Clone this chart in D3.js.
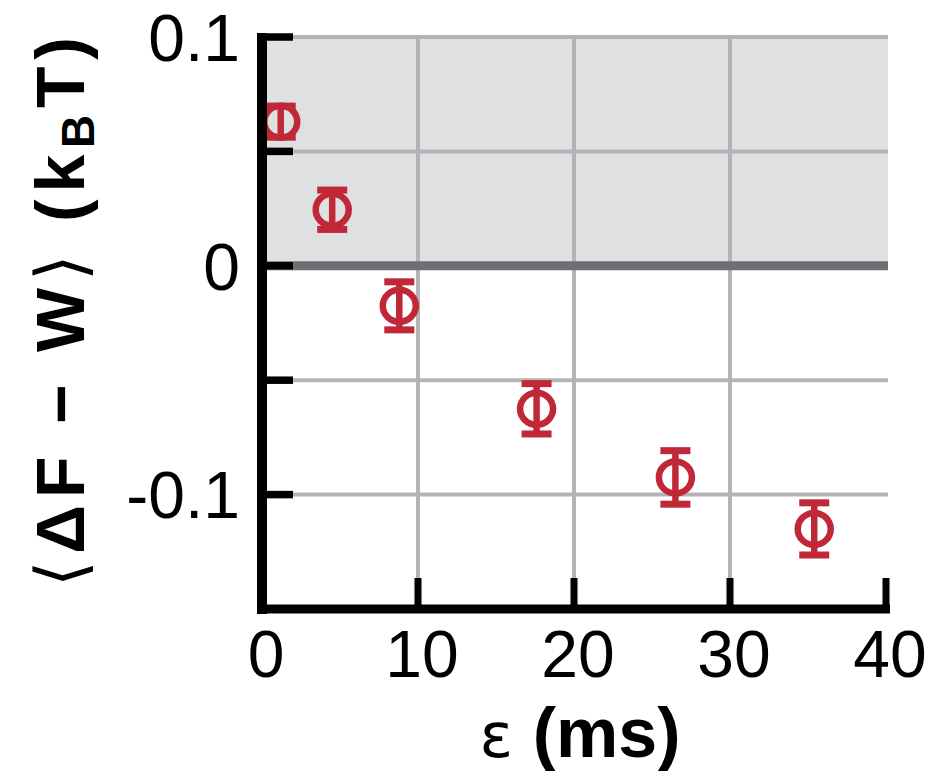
<!DOCTYPE html>
<html>
<head>
<meta charset="utf-8">
<script src="https://cdn.jsdelivr.net/npm/d3@7"></script>
<style>
  html, body { margin: 0; padding: 0; background: #fff; }
  svg { display: block; font-family: "Liberation Sans", Arial, Helvetica, sans-serif; }
</style>
</head>
<body>
<svg id="chart" width="945" height="771" viewBox="0 0 945 771"></svg>
<script>
// data
const epsilon = [1.2, 4.5, 8.8, 17.6, 26.5, 35.4];          // ms
const meanDiff = [0.063, 0.0245, -0.0175, -0.0625, -0.0925, -0.1150]; // kBT
const errDiff = [0.0068, 0.0086, 0.0105, 0.0110, 0.0117, 0.0114];
const xTicks = [0, 10, 20, 30, 40];
const yTicks = [0.1, 0.05, 0, -0.05, -0.1];
const yTickLabels = {"0.1": "0.1", "0": "0", "-0.1": "-0.1"};

const svg = d3.select("#chart");
const red = "#c02838";

const x = d3.scaleLinear().domain([0, 40]).range([262, 886]);
const y = d3.scaleLinear().domain([-0.15, 0.1]).range([609, 37]);

// shaded positive region
svg.append("rect")
    .attr("x", x(0)).attr("y", y(0.1))
    .attr("width", x(40) - x(0) + 2).attr("height", y(0) - y(0.1))
    .attr("fill", "#dfe0e1");

// grid
const grid = svg.append("g");
grid.selectAll(".vg").data([10, 20, 30]).enter().append("line")
    .attr("x1", d => x(d)).attr("x2", d => x(d))
    .attr("y1", y(0.1)).attr("y2", y(-0.15))
    .attr("stroke", "#b3b3b7").attr("stroke-width", 4);
grid.selectAll(".hg").data(yTicks.filter(d => d !== 0)).enter().append("line")
    .attr("x1", x(0)).attr("x2", x(40) + 2)
    .attr("y1", d => y(d)).attr("y2", d => y(d))
    .attr("stroke", "#b3b3b7").attr("stroke-width", 4);
grid.append("line")
    .attr("x1", x(0)).attr("x2", x(40) + 2)
    .attr("y1", y(0)).attr("y2", y(0))
    .attr("stroke", "#707074").attr("stroke-width", 9);

// points with error bars
const pts = svg.append("g").selectAll("g")
    .data(epsilon.map((e, i) => ({x: e, y: meanDiff[i], err: errDiff[i]})))
    .enter().append("g");
pts.append("line")
    .attr("x1", d => x(d.x)).attr("x2", d => x(d.x))
    .attr("y1", d => y(d.y + d.err)).attr("y2", d => y(d.y - d.err))
    .attr("stroke", red).attr("stroke-width", 6.5);
pts.selectAll(".cap").data(d => [d.y + d.err, d.y - d.err].map(v => ({x: d.x, v})))
    .enter().append("line")
    .attr("x1", d => x(d.x) - 15).attr("x2", d => x(d.x) + 15)
    .attr("y1", d => y(d.v)).attr("y2", d => y(d.v))
    .attr("stroke", red).attr("stroke-width", 7);
pts.append("ellipse")
    .attr("cx", d => x(d.x)).attr("cy", d => y(d.y))
    .attr("rx", 16.5).attr("ry", 16)
    .attr("fill", "none").attr("stroke", red).attr("stroke-width", 6.5);

// axes
const axes = svg.append("g").attr("stroke", "#000").attr("stroke-linecap", "butt");
axes.append("line")
    .attr("x1", x(0)).attr("x2", x(0))
    .attr("y1", y(0.1) - 4).attr("y2", y(-0.15) + 5)
    .attr("stroke-width", 10);
axes.append("line")
    .attr("x1", x(0) - 5).attr("x2", x(40) + 4)
    .attr("y1", y(-0.15)).attr("y2", y(-0.15))
    .attr("stroke-width", 9);
axes.selectAll(".yt").data(yTicks).enter().append("line")
    .attr("x1", x(0)).attr("x2", x(0) + 31)
    .attr("y1", d => y(d)).attr("y2", d => y(d))
    .attr("stroke-width", 7.5);
axes.selectAll(".xt").data(xTicks.slice(1)).enter().append("line")
    .attr("x1", d => x(d)).attr("x2", d => x(d))
    .attr("y1", y(-0.15)).attr("y2", y(-0.15) - 31)
    .attr("stroke-width", 7);

// tick labels
svg.append("g").selectAll("text").data(yTicks.filter(d => yTickLabels[String(d)] !== undefined))
    .enter().append("text")
    .attr("x", 240).attr("y", d => y(d))
    .attr("dy", "0.36em")
    .attr("text-anchor", "end")
    .attr("font-size", 66)
    .text(d => yTickLabels[String(d)]);

svg.append("g").selectAll("text").data(xTicks).enter().append("text")
    .attr("x", d => x(d) + 4).attr("y", 677)
    .attr("text-anchor", "middle")
    .attr("font-size", 66)
    .text(d => d);

// axis titles
const xt = svg.append("text")
    .attr("x", 580).attr("y", 757)
    .attr("text-anchor", "middle")
    .attr("font-size", 70);
xt.append("tspan").attr("font-family", "DejaVu Sans").attr("font-size", 62).text("ε ");
xt.append("tspan").attr("font-weight", "bold").text("(ms)");

const yt = svg.append("text")
    .attr("transform", "translate(84,312) rotate(-90)")
    .attr("text-anchor", "middle")
    .attr("font-size", 68)
    .attr("font-weight", "bold")
    .attr("textLength", 550)
    .attr("lengthAdjust", "spacing");
yt.append("tspan").attr("font-family", "DejaVu Sans").attr("font-weight", "normal").text("⟨");
yt.append("tspan").text("ΔF − W");
yt.append("tspan").attr("font-family", "DejaVu Sans").attr("font-weight", "normal").text("⟩");
yt.append("tspan").text(" (k");
yt.append("tspan").attr("font-size", 46).attr("dy", 10).text("B");
yt.append("tspan").attr("dy", -10).text("T)");
</script>
</body>
</html>
